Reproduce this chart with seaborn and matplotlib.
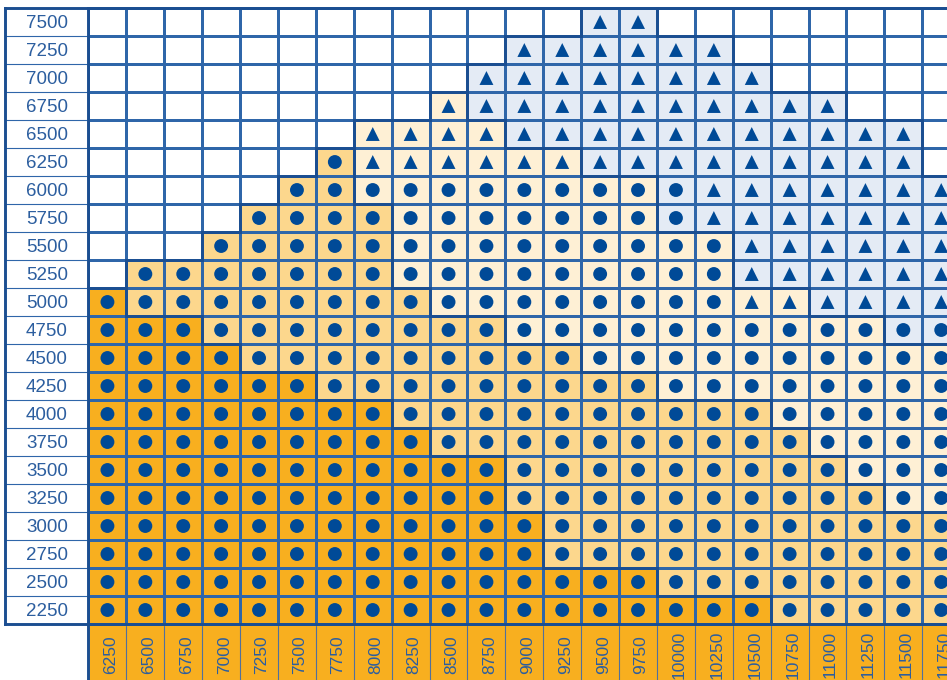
import numpy as np
import pandas as pd
import seaborn as sns
import matplotlib.pyplot as plt
from matplotlib.colors import ListedColormap
from matplotlib.collections import LineCollection
from matplotlib.patches import Rectangle

# row / column labels
rows = [7500, 7250, 7000, 6750, 6500, 6250, 6000, 5750, 5500, 5250, 5000,
        4750, 4500, 4250, 4000, 3750, 3500, 3250, 3000, 2750, 2500, 2250]
cols = [6250, 6500, 6750, 7000, 7250, 7500, 7750, 8000, 8250, 8500, 8750, 9000,
        9250, 9500, 9750, 10000, 10250, 10500, 10750, 11000, 11250, 11500, 11750]

# cells per row, left to right: white, dark orange, mid orange, cream, light blue (rest is white)
white_left = [13, 11, 10, 9, 7, 6, 5, 4, 3, 1, 0, 0, 0, 0, 0, 0, 0, 0, 0, 0, 0, 0]
dark = [0, 0, 0, 0, 0, 0, 0, 0, 0, 0, 1, 3, 4, 6, 8, 9, 11, 11, 12, 12, 15, 18]
mid = [0, 0, 0, 0, 0, 1, 2, 4, 5, 7, 8, 8, 9, 9, 10, 10, 9, 10, 11, 11, 8, 5]
cream = [0, 0, 0, 1, 4, 6, 8, 7, 9, 9, 10, 10, 10, 8, 5, 4, 3, 2, 0, 0, 0, 0]
blue = [2, 6, 8, 10, 11, 9, 8, 8, 6, 6, 4, 2, 0, 0, 0, 0, 0, 0, 0, 0, 0, 0]
# first column with a triangle marker in each row (23 = none)
tri_from = [13, 11, 10, 9, 7, 7, 16, 16, 17, 17, 17, 23, 23, 23, 23, 23, 23, 23, 23, 23, 23, 23]

zone_colors = ['#FFFFFF', '#F8AF1F', '#FCD78D', '#FEF0D5', '#E4EBF5']
thin_col = '#2F66A9'
thick_col = '#1B4E91'
mark_col = '#004A97'
text_col = '#2C5E9F'

sns.set_style('white')
plt.rcParams['font.family'] = ['Liberation Sans', 'DejaVu Sans']

#build cell matrix
nr, nc = len(rows), len(cols)
grid = np.zeros((nr, nc), dtype=int)
for r in range(nr):
    codes = np.repeat([0, 1, 2, 3, 4], [white_left[r], dark[r], mid[r], cream[r], blue[r]])
    grid[r, :len(codes)] = codes
df = pd.DataFrame(grid, index=rows, columns=cols)

#marker points
pts = []
for r in range(nr):
    for c in range(nc):
        if grid[r, c] > 0:
            pts.append({'x': c + 0.5, 'y': r + 0.5,
                        'shape': 'tri' if c >= tri_from[r] else 'dot'})
pts = pd.DataFrame(pts)

fig = plt.figure(figsize=(9.47, 6.8), dpi=100)
ax = fig.add_axes([0, 0, 1, 1])

sns.heatmap(df, ax=ax, cmap=ListedColormap(zone_colors), vmin=-0.5, vmax=4.5,
            cbar=False, linewidths=0.8, linecolor=thin_col,
            xticklabels=False, yticklabels=False)

sns.scatterplot(data=pts, x='x', y='y', style='shape', markers={'dot': 'o', 'tri': '^'},
                s=100, color=mark_col, linewidth=0, legend=False, ax=ax, zorder=4)

#label column on the left
lab_x0 = -2.2
ax.add_patch(Rectangle((lab_x0, 0), -lab_x0, nr, fc='white', ec='none', zorder=2))
for r in range(1, nr):
    ax.plot([lab_x0, 0], [r, r], color=thin_col, lw=0.8, zorder=3)
for r, lab in enumerate(rows):
    ax.text(lab_x0 / 2, r + 0.55, str(lab), ha='center', va='center',
            fontsize=13.5, color=text_col, zorder=5)

#label row at the bottom
ax.add_patch(Rectangle((0, nr + 0.07), nc, 3, fc=zone_colors[1], ec='none', zorder=2))
for c in range(1, nc):
    ax.plot([c, c], [nr + 0.07, nr + 3], color='#50709E', lw=0.8, zorder=3)
for c, lab in enumerate(cols):
    ax.text(c + 0.58, nr + 1.1, str(lab), ha='center', va='center', rotation=90,
            fontsize=12.5, color=text_col, zorder=5)

#thick borders between zones
segs = []
for r in range(nr):
    for c in range(nc - 1):
        if grid[r, c] != grid[r, c + 1]:
            segs.append([(c + 1, r), (c + 1, r + 1)])
for r in range(nr - 1):
    for c in range(nc):
        if grid[r, c] != grid[r + 1, c]:
            segs.append([(c, r + 1), (c + 1, r + 1)])
segs.append([(lab_x0, 0), (nc, 0)])
segs.append([(lab_x0, nr), (nc, nr)])
segs.append([(0, 0), (0, nr + 3)])
segs.append([(lab_x0, 0), (lab_x0, nr)])
ax.add_collection(LineCollection(segs, colors=thick_col, linewidths=2.1,
                                 capstyle='projecting', zorder=6))

ax.set_xlim(-2.335, 22.652)
ax.set_ylim(24.0, -0.286)
ax.axis('off')

fig.savefig('out.png', dpi=100)
